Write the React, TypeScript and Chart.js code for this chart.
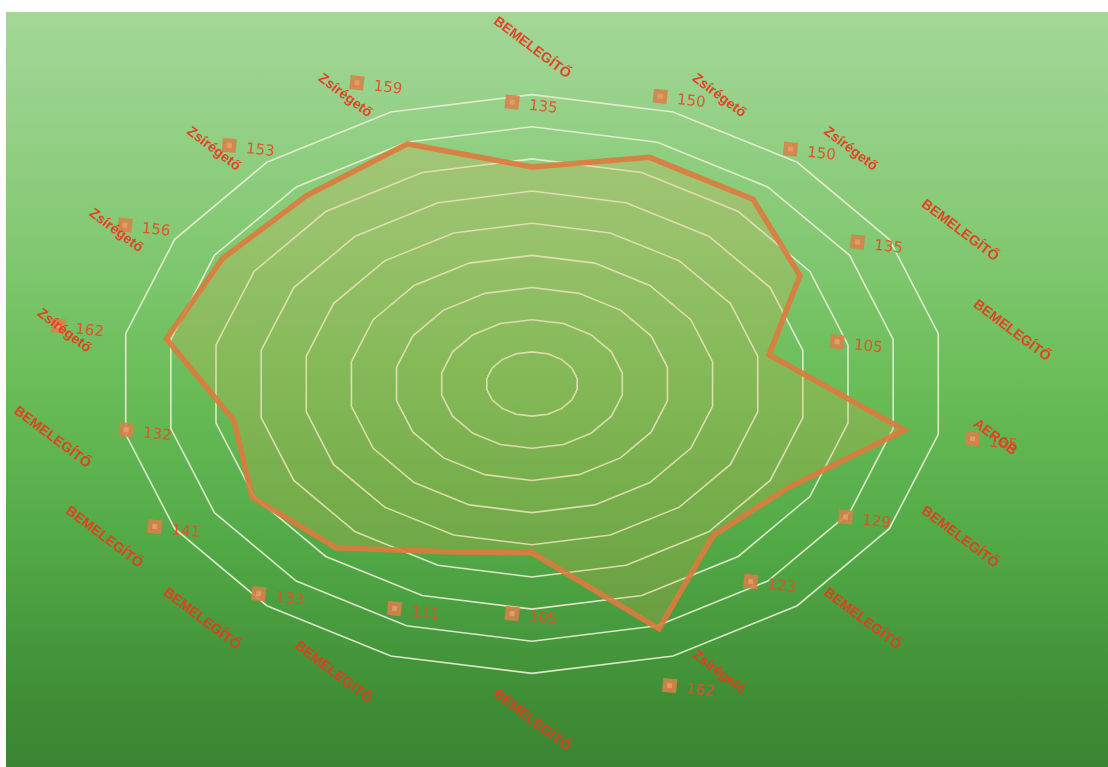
import { useEffect, useRef } from 'react';
import { Chart, registerables, RadialLinearScale } from 'chart.js';

Chart.register(...registerables);

// Training segments, clockwise from the top
const categories = [
  'BEMELEGÍTŐ', 'Zsírégető', 'Zsírégető', 'BEMELEGÍTŐ', 'BEMELEGÍTŐ', 'AEROB',
  'BEMELEGÍTŐ', 'BEMELEGÍTŐ', 'Zsírégető', 'BEMELEGÍTŐ', 'BEMELEGÍTŐ', 'BEMELEGÍTŐ',
  'BEMELEGÍTŐ', 'BEMELEGÍTŐ', 'Zsírégető', 'Zsírégető', 'Zsírégető', 'Zsírégető',
];

// Heart rate per segment
const heartRates = [135, 150, 150, 135, 105, 165, 129, 123, 162, 105, 111, 133, 141, 132, 162, 156, 153, 159];

const scaleMin = 0;
const scaleMax = 180;
const scaleStep = 20;

// Horizontal / vertical stretch of the radial scale (the web is drawn as a flattened ellipse)
const STRETCH_X = 1.109;
const STRETCH_Y = 0.778;

// How far (in value units) the value labels sit outside their data point
const VALUE_LABEL_OFFSET = 39;
// Category labels hang just outside the outer ring (fraction of the radius)
const CATEGORY_RADIUS = 1.06;
const CATEGORY_ROTATION = 37;

class EllipticalRadialScale extends RadialLinearScale {
  static id = 'ellipticalRadial';
  static defaults = RadialLinearScale.defaults;

  getPointPosition(index: number, distance: number, additionalAngle = 0) {
    const angle = this.getIndexAngle(index) - Math.PI / 2 + additionalAngle;
    return {
      x: this.xCenter + Math.cos(angle) * distance * STRETCH_X,
      y: this.yCenter + Math.sin(angle) * distance * STRETCH_Y,
      angle,
    };
  }
}
Chart.register(EllipticalRadialScale);

const deg = (d: number) => (d * Math.PI) / 180;

const spokeLabels = {
  id: 'spokeLabels',
  afterDraw(chart: any) {
    const scale = chart.scales.r;
    const ctx: CanvasRenderingContext2D = chart.ctx;

    // value labels with their square keys
    heartRates.forEach((v, i) => {
      const d = scale.getDistanceFromCenterForValue(v + VALUE_LABEL_OFFSET);
      const p = scale.getPointPosition(i, d);
      ctx.save();
      ctx.translate(p.x, p.y);
      ctx.rotate(deg(6));
      ctx.fillStyle = 'rgba(216,128,74,0.88)';
      ctx.fillRect(-27, -7, 14, 14);
      ctx.fillStyle = 'rgba(234,160,110,0.8)';
      ctx.fillRect(-22.5, -2.5, 5, 5);
      ctx.fillStyle = 'rgba(226,80,40,0.95)';
      ctx.font = '15px "DejaVu Sans"';
      ctx.textAlign = 'left';
      ctx.textBaseline = 'middle';
      ctx.fillText(String(v), -3, 2);
      ctx.restore();
    });

    // category labels: rotated text box pushed outward from its anchor
    const fontSize = 14;
    ctx.font = `bold ${fontSize}px "Liberation Sans"`;
    const rc = Math.cos(deg(CATEGORY_ROTATION));
    const rs = Math.sin(deg(CATEGORY_ROTATION));
    categories.forEach((c, i) => {
      const w = ctx.measureText(c).width;
      const boxW = w * rc + fontSize * rs;
      const boxH = w * rs + fontSize * rc;
      const a = scale.getPointPosition(i, scale.drawingArea * CATEGORY_RADIUS);
      const cosA = Math.cos(a.angle);
      const sinA = Math.sin(a.angle);
      let cx = a.x;
      let cy = a.y;
      if (Math.abs(cosA) < 0.05) cy += Math.sign(sinA) * (boxH / 2 - 4);
      else cx += Math.sign(cosA) * (boxW / 2 + 8);
      ctx.save();
      ctx.translate(cx, cy);
      ctx.rotate(deg(CATEGORY_ROTATION));
      ctx.fillStyle = 'rgba(232,58,30,0.95)';
      ctx.textAlign = 'center';
      ctx.textBaseline = 'middle';
      ctx.fillText(c, 0, 0);
      ctx.restore();
    });
  },
};

export default function App() {
  const canvasRef = useRef<HTMLCanvasElement | null>(null);

  useEffect(() => {
    const canvas = canvasRef.current;
    if (!canvas) return;
    const chart = new Chart(canvas, {
      type: 'radar',
      data: {
        labels: categories,
        datasets: [
          {
            data: heartRates,
            borderColor: 'rgba(222,122,62,0.9)',
            backgroundColor: 'rgba(222,170,78,0.22)',
            borderWidth: 5.5,
            borderJoinStyle: 'miter',
            fill: true,
            pointRadius: 0,
            pointHoverRadius: 0,
          },
        ],
      },
      options: {
        responsive: false,
        animation: false,
        layout: { padding: { left: 0, right: 50, top: 0, bottom: 10 } },
        plugins: {
          legend: { display: false },
          tooltip: { enabled: false },
        },
        scales: {
          r: {
            type: 'ellipticalRadial' as any,
            min: scaleMin,
            max: scaleMax,
            ticks: { display: false, stepSize: scaleStep },
            grid: { color: 'rgba(232,238,210,0.92)', lineWidth: 1.6 },
            angleLines: { display: false },
            pointLabels: { display: false },
          },
        },
      } as any,
      plugins: [spokeLabels],
    });
    return () => chart.destroy();
  }, []);

  return (
    <div
      style={{
        position: 'fixed',
        left: 6,
        top: 12,
        width: 1102,
        height: 755,
        background:
          'linear-gradient(to bottom, #a3d798 0%, #86ca76 28%, #6bbe5a 48%, #52aa46 70%, #3e8c35 92%, #3b8532 100%)',
      }}
    >
      <canvas ref={canvasRef} width={1102} height={755} style={{ display: 'block' }} />
    </div>
  );
}
